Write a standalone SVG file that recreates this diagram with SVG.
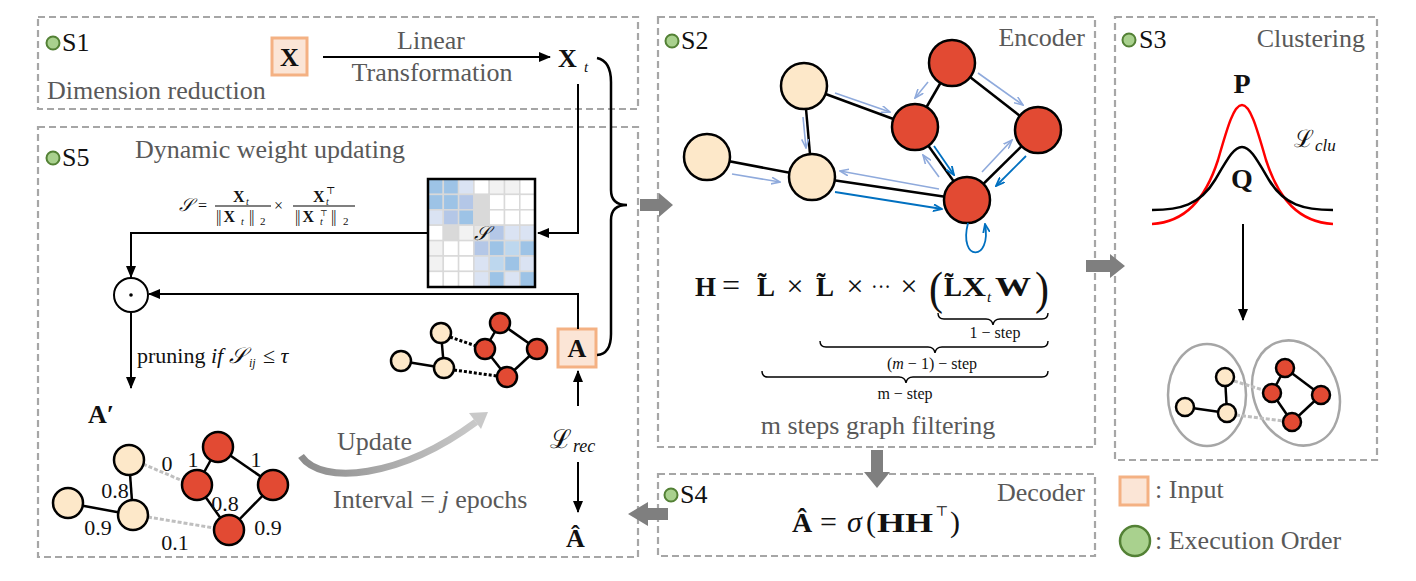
<svg xmlns="http://www.w3.org/2000/svg" width="1416" height="581" viewBox="0 0 1416 581">
<style>
.box{fill:none;stroke:#a6a6a6;stroke-width:2.2;stroke-dasharray:7 4}
.lbl{font-family:"Liberation Serif",serif;fill:#595959;font-size:26px}
.tx{font-family:"Liberation Serif","DejaVu Serif",serif;fill:#111}
.sl{font-family:"Liberation Serif",serif;fill:#111;font-size:26px}
.b{font-weight:bold}
.i{font-style:italic}
.dot{fill:#a9d18e;stroke:#538135;stroke-width:2}
.inp{fill:#fbe5d6;stroke:#f4b183;stroke-width:3}
.ln{stroke:#000;stroke-width:2;fill:none}
.edge{stroke:#000;stroke-width:2.5;fill:none}
.pl{fill:#fde8c9;stroke:#000;stroke-width:2.5}
.rd{fill:#e24a33;stroke:#000;stroke-width:2.5}
.gd{stroke:#bfbfbf;stroke-width:3;stroke-dasharray:4 2;fill:none}
.kd{stroke:#000;stroke-width:3;stroke-dasharray:3 2;fill:none}
.ba{fill:#7f7f7f}
.lb{stroke:#8faadc;stroke-width:1.6;fill:none}
.db{stroke:#0070c0;stroke-width:1.8;fill:none}
.cell{stroke:#d9d9d9;stroke-width:1.5}
</style>
<defs>
<marker id="ah" markerUnits="userSpaceOnUse" markerWidth="12" markerHeight="10" refX="11" refY="5" orient="auto"><path d="M0,0 L12,5 L0,10 z" fill="#000"/></marker>
<marker id="lbm" markerUnits="userSpaceOnUse" markerWidth="10" markerHeight="8" refX="9" refY="4" orient="auto"><path d="M0,0.5 L9,4 L0,7.5" fill="none" stroke="#8faadc" stroke-width="1.6"/></marker>
<marker id="dbm" markerUnits="userSpaceOnUse" markerWidth="10" markerHeight="8" refX="9" refY="4" orient="auto"><path d="M0,0.5 L9,4 L0,7.5" fill="none" stroke="#0070c0" stroke-width="1.8"/></marker>
<linearGradient id="ug" x1="0" y1="0" x2="1" y2="0"><stop offset="0" stop-color="#8c8c8c"/><stop offset="1" stop-color="#c9c9c9"/></linearGradient>
</defs>

<!-- boxes -->
<g id="S1">
<rect class="box" x="38" y="17" width="600" height="92"/>
<circle class="dot" cx="53" cy="43" r="6.5"/>
<text class="sl" x="62" y="51">S1</text>
<text class="lbl" x="47" y="99">Dimension reduction</text>
</g>
<g id="S5">
<rect class="box" x="38" y="127" width="600" height="430"/>
<circle class="dot" cx="53" cy="158" r="6.5"/>
<text class="sl" x="62" y="166">S5</text>
<text class="lbl" x="135" y="158">Dynamic weight updating</text>
</g>
<g id="S2">
<rect class="box" x="658" y="17" width="437" height="430"/>
<circle class="dot" cx="672" cy="41" r="6.5"/>
<text class="sl" x="681" y="49">S2</text>
<text class="lbl" x="1085" y="46" text-anchor="end">Encoder</text>
</g>
<g id="S3">
<rect class="box" x="1115" y="17" width="262" height="443"/>
<circle class="dot" cx="1129" cy="40" r="6.5"/>
<text class="sl" x="1139" y="48">S3</text>
<text class="lbl" x="1365" y="47" text-anchor="end">Clustering</text>
</g>
<g id="S4">
<rect class="box" x="658" y="474" width="437" height="82"/>
<circle class="dot" cx="671" cy="495" r="6.5"/>
<text class="sl" x="680" y="503">S4</text>
<text class="lbl" x="1085" y="501" text-anchor="end">Decoder</text>
<text class="tx b" x="792" y="532" font-size="28">Â</text>
<text class="tx" x="820" y="532" font-size="30">=</text>
<text class="tx i" x="847" y="532" font-size="30">σ</text>
<text class="tx" x="866" y="532" font-size="30">(</text>
<text class="tx b" x="877" y="532" font-size="28" textLength="56" lengthAdjust="spacingAndGlyphs">HH</text>
<text class="tx" x="935" y="516" font-size="14">⊤</text>
<text class="tx" x="950" y="532" font-size="30">)</text>
</g>

<!-- S1 contents -->
<g id="X-input">
<rect class="inp" x="272" y="38" width="35" height="37"/>
<text class="tx b" x="289.5" y="66" font-size="26" text-anchor="middle">X</text>
</g>
<g id="Xt">
<text class="tx b" x="558" y="67" font-size="26">X</text>
<text class="tx i" x="584" y="72" font-size="15">t</text>
</g>
<text class="lbl" x="431" y="49" text-anchor="middle">Linear</text>
<text class="lbl" x="432" y="81" text-anchor="middle">Transformation</text>

<!-- S5 formula -->
<g id="sim-formula" class="tx" font-size="16">
<text x="179" y="211" class="i" font-size="18">𝒮</text>
<text x="198" y="211">=</text>
<line x1="215" y1="206" x2="271" y2="206" stroke="#000" stroke-width="1.2"/>
<text x="233" y="202" class="b">X</text><text x="246" y="205" class="i" font-size="10">t</text>
<text x="216" y="222" letter-spacing="-1">|| <tspan class="b" letter-spacing="0">X</tspan></text><text x="241" y="225" class="i" font-size="10">t</text><text x="249" y="222" letter-spacing="-1">||</text><text x="260" y="225" font-size="11">2</text>
<text x="274" y="211">×</text>
<line x1="293" y1="206" x2="355" y2="206" stroke="#000" stroke-width="1.2"/>
<text x="313" y="202" class="b">X</text><text x="326" y="205" class="i" font-size="10">t</text><text x="326" y="194" font-size="10">⊤</text>
<text x="295" y="222" letter-spacing="-1">|| <tspan class="b" letter-spacing="0">X</tspan></text><text x="320" y="225" class="i" font-size="10">t</text><text x="320" y="216" font-size="8">⊤</text><text x="331" y="222" letter-spacing="-1">||</text><text x="343" y="225" font-size="11">2</text>
</g>

<!-- similarity matrix -->
<g id="matrix">
<g class="cell">
<rect x="428" y="179" width="15.3" height="15.4" fill="#9dc3e6"/><rect x="443.3" y="179" width="15.3" height="15.4" fill="#9dc3e6"/><rect x="458.6" y="179" width="15.3" height="15.4" fill="#dae3f3"/><rect x="473.9" y="179" width="15.3" height="15.4" fill="#fff"/><rect x="489.2" y="179" width="15.3" height="15.4" fill="#f2f2f2"/><rect x="504.5" y="179" width="15.3" height="15.4" fill="#f2f2f2"/><rect x="519.8" y="179" width="15.2" height="15.4" fill="#fff"/>
<rect x="428" y="194.4" width="15.3" height="15.4" fill="#9dc3e6"/><rect x="443.3" y="194.4" width="15.3" height="15.4" fill="#9dc3e6"/><rect x="458.6" y="194.4" width="15.3" height="15.4" fill="#b4c7e7"/><rect x="473.9" y="194.4" width="15.3" height="15.4" fill="#d9d9d9"/><rect x="489.2" y="194.4" width="15.3" height="15.4" fill="#fff"/><rect x="504.5" y="194.4" width="15.3" height="15.4" fill="#fff"/><rect x="519.8" y="194.4" width="15.2" height="15.4" fill="#fff"/>
<rect x="428" y="209.8" width="15.3" height="15.4" fill="#dae3f3"/><rect x="443.3" y="209.8" width="15.3" height="15.4" fill="#b4c7e7"/><rect x="458.6" y="209.8" width="15.3" height="15.4" fill="#9dc3e6"/><rect x="473.9" y="209.8" width="15.3" height="15.4" fill="#d9d9d9"/><rect x="489.2" y="209.8" width="15.3" height="15.4" fill="#fff"/><rect x="504.5" y="209.8" width="15.3" height="15.4" fill="#fff"/><rect x="519.8" y="209.8" width="15.2" height="15.4" fill="#fff"/>
<rect x="428" y="225.2" width="15.3" height="15.4" fill="#fff"/><rect x="443.3" y="225.2" width="15.3" height="15.4" fill="#d9d9d9"/><rect x="458.6" y="225.2" width="15.3" height="15.4" fill="#f2f2f2"/><rect x="473.9" y="225.2" width="15.3" height="15.4" fill="#e7e6e6"/><rect x="489.2" y="225.2" width="15.3" height="15.4" fill="#b4c7e7"/><rect x="504.5" y="225.2" width="15.3" height="15.4" fill="#dae3f3"/><rect x="519.8" y="225.2" width="15.2" height="15.4" fill="#dae3f3"/>
<rect x="428" y="240.6" width="15.3" height="15.4" fill="#f2f2f2"/><rect x="443.3" y="240.6" width="15.3" height="15.4" fill="#fff"/><rect x="458.6" y="240.6" width="15.3" height="15.4" fill="#fff"/><rect x="473.9" y="240.6" width="15.3" height="15.4" fill="#b4c7e7"/><rect x="489.2" y="240.6" width="15.3" height="15.4" fill="#9dc3e6"/><rect x="504.5" y="240.6" width="15.3" height="15.4" fill="#bdd7ee"/><rect x="519.8" y="240.6" width="15.2" height="15.4" fill="#9dc3e6"/>
<rect x="428" y="256" width="15.3" height="15.4" fill="#f2f2f2"/><rect x="443.3" y="256" width="15.3" height="15.4" fill="#fff"/><rect x="458.6" y="256" width="15.3" height="15.4" fill="#fff"/><rect x="473.9" y="256" width="15.3" height="15.4" fill="#dae3f3"/><rect x="489.2" y="256" width="15.3" height="15.4" fill="#bdd7ee"/><rect x="504.5" y="256" width="15.3" height="15.4" fill="#9dc3e6"/><rect x="519.8" y="256" width="15.2" height="15.4" fill="#dae3f3"/>
<rect x="428" y="271.4" width="15.3" height="15.6" fill="#fff"/><rect x="443.3" y="271.4" width="15.3" height="15.6" fill="#fff"/><rect x="458.6" y="271.4" width="15.3" height="15.6" fill="#fff"/><rect x="473.9" y="271.4" width="15.3" height="15.6" fill="#dae3f3"/><rect x="489.2" y="271.4" width="15.3" height="15.6" fill="#9dc3e6"/><rect x="504.5" y="271.4" width="15.3" height="15.6" fill="#dae3f3"/><rect x="519.8" y="271.4" width="15.2" height="15.6" fill="#9dc3e6"/>
</g>
<rect x="428" y="179" width="107" height="108" fill="none" stroke="#000" stroke-width="2.5"/>
<text class="tx i" x="481.5" y="240" font-size="20" text-anchor="middle">𝒮</text>
</g>

<!-- hadamard -->
<g id="hadamard">
<circle cx="131" cy="295" r="17" fill="#fff" stroke="#000" stroke-width="2"/>
<circle cx="131" cy="295" r="1.8" fill="#000"/>
</g>
<text class="tx" x="137" y="363" font-size="22">pruning <tspan class="i">if</tspan> <tspan class="i">𝒮</tspan></text>
<text class="tx i" x="249" y="367" font-size="12">ij</text>
<text class="tx" x="263" y="363" font-size="22">≤ <tspan class="i">τ</tspan></text>
<g id="Aprime"><text class="tx b" x="88" y="423" font-size="26">A′</text></g>

<!-- bottom-left graph -->
<g id="graph-aprime">
<line class="edge" x1="129" y1="460" x2="133" y2="515"/>
<line class="edge" x1="68" y1="503" x2="133" y2="515"/>
<line class="edge" x1="218" y1="447" x2="197" y2="485"/>
<line class="edge" x1="218" y1="447" x2="273" y2="485"/>
<line class="edge" x1="197" y1="485" x2="229" y2="530"/>
<line class="edge" x1="273" y1="485" x2="229" y2="530"/>
<line class="gd" x1="143" y1="464" x2="183" y2="481"/>
<line class="gd" x1="148" y1="517" x2="214" y2="528"/>
<circle class="pl" cx="129" cy="460" r="15"/><circle class="pl" cx="68" cy="503" r="15"/><circle class="pl" cx="133" cy="515" r="15"/>
<circle class="rd" cx="218" cy="447" r="15"/><circle class="rd" cx="197" cy="485" r="15"/><circle class="rd" cx="273" cy="485" r="15"/><circle class="rd" cx="229" cy="530" r="15"/>
<g class="tx" font-size="22" fill="#333" text-anchor="middle">
<text x="167" y="471">0</text><text x="193" y="467">1</text><text x="256" y="467">1</text>
<text x="115" y="498">0.8</text><text x="98" y="535">0.9</text><text x="225" y="511">0.8</text><text x="268" y="535">0.9</text><text x="175" y="550">0.1</text>
</g>
</g>

<!-- middle small graph -->
<g id="graph-a">
<line class="edge" x1="441" y1="333" x2="444" y2="368"/>
<line class="edge" x1="401" y1="361" x2="444" y2="368"/>
<line class="edge" x1="500" y1="323" x2="485" y2="349"/>
<line class="edge" x1="500" y1="323" x2="537" y2="349"/>
<line class="edge" x1="485" y1="349" x2="507" y2="377"/>
<line class="edge" x1="537" y1="349" x2="507" y2="377"/>
<line class="kd" x1="450" y1="337" x2="476" y2="346"/>
<line class="kd" x1="454" y1="370" x2="497" y2="376"/>
<circle class="pl" cx="441" cy="333" r="10"/><circle class="pl" cx="401" cy="361" r="10"/><circle class="pl" cx="444" cy="368" r="10"/>
<circle class="rd" cx="500" cy="323" r="10"/><circle class="rd" cx="485" cy="349" r="10"/><circle class="rd" cx="537" cy="349" r="10"/><circle class="rd" cx="507" cy="377" r="10"/>
</g>
<g id="A-input">
<rect class="inp" x="558" y="329" width="38" height="38"/>
<text class="tx b" x="577" y="357" font-size="26" text-anchor="middle">A</text>
</g>
<g id="Lrec"><text class="tx" x="550" y="448" font-size="26">ℒ</text><text class="tx i" x="573" y="452" font-size="18">rec</text></g>
<g id="Ahat"><text class="tx b" x="566" y="547" font-size="26">Â</text></g>
<g id="update">
<path d="M301,456 C322,486 400,478 476,422" fill="none" stroke="url(#ug)" stroke-width="7"/>
<polygon points="488,412 481,429 469,413" fill="#c9c9c9"/>
<text class="lbl" x="337" y="450">Update</text>
<text class="lbl" x="333" y="508">Interval = <tspan class="i">j</tspan> epochs</text>
</g>

<!-- S2 graph -->
<g id="graph-enc">
<line class="edge" x1="804" y1="86" x2="812" y2="177"/>
<line class="edge" x1="707" y1="157" x2="812" y2="177"/>
<line class="edge" x1="804" y1="86" x2="915" y2="127"/>
<line class="edge" x1="952" y1="63" x2="915" y2="127"/>
<line class="edge" x1="952" y1="63" x2="1038" y2="130"/>
<line class="edge" x1="1038" y1="130" x2="967" y2="200"/>
<line class="edge" x1="915" y1="127" x2="967" y2="200"/>
<line class="edge" x1="812" y1="177" x2="967" y2="200"/>
<circle class="pl" cx="804" cy="86" r="23"/><circle class="pl" cx="707" cy="157" r="23"/><circle class="pl" cx="812" cy="177" r="23"/>
<circle class="rd" cx="952" cy="63" r="23"/><circle class="rd" cx="915" cy="127" r="23"/><circle class="rd" cx="1038" cy="130" r="23"/><circle class="rd" cx="967" cy="200" r="23"/>
</g>
<g id="msg-arrows">
<line class="lb" x1="835" y1="93" x2="890" y2="112" marker-end="url(#lbm)"/>
<line class="lb" x1="803" y1="117" x2="806" y2="148" marker-end="url(#lbm)"/>
<line class="lb" x1="732" y1="174" x2="780" y2="182" marker-end="url(#lbm)"/>
<line class="lb" x1="928" y1="82" x2="915" y2="98" marker-end="url(#lbm)"/>
<line class="lb" x1="978" y1="73" x2="1023" y2="105" marker-end="url(#lbm)"/>
<line class="lb" x1="939" y1="177" x2="923" y2="155" marker-end="url(#lbm)"/>
<line class="db" x1="934" y1="146" x2="954" y2="175" marker-end="url(#dbm)"/>
<line class="lb" x1="982" y1="172" x2="1012" y2="140" marker-end="url(#lbm)"/>
<line class="db" x1="1026" y1="156" x2="996" y2="186" marker-end="url(#dbm)"/>
<line class="lb" x1="939" y1="189" x2="840" y2="171" marker-end="url(#lbm)"/>
<line class="db" x1="835" y1="192" x2="942" y2="209" marker-end="url(#dbm)"/>
<path class="db" d="M968,223 C958,262 992,262 985,224" marker-end="url(#dbm)"/>
</g>

<!-- H formula -->
<g id="H-formula" class="tx">
<text class="b" x="695" y="296" font-size="27">H</text>
<text x="731" y="296" font-size="32" text-anchor="middle">=</text>
<text class="b" x="757" y="296" font-size="27">L̃</text>
<text x="795" y="296" font-size="30" text-anchor="middle">×</text>
<text class="b" x="816" y="296" font-size="27">L̃</text>
<text x="855" y="296" font-size="30" text-anchor="middle">×</text>
<text x="881" y="294" font-size="24" text-anchor="middle" textLength="20" lengthAdjust="spacingAndGlyphs">···</text>
<text x="909" y="296" font-size="30" text-anchor="middle">×</text>
<text x="929" y="304" font-size="46" textLength="14" lengthAdjust="spacingAndGlyphs">(</text>
<text class="b" x="944" y="296" font-size="27">L̃</text>
<text class="b" x="962" y="296" font-size="27" textLength="24" lengthAdjust="spacingAndGlyphs">X</text>
<text class="i" x="987" y="302" font-size="15">t</text>
<text class="b" x="995" y="296" font-size="27" textLength="36" lengthAdjust="spacingAndGlyphs">W</text>
<text x="1035" y="304" font-size="46" textLength="14" lengthAdjust="spacingAndGlyphs">)</text>
</g>
<g id="braces" fill="none" stroke="#000" stroke-width="1.4">
<path d="M938,313 Q938,319 944,319 L986,319 Q992,319 993,325 Q994,319 1000,319 L1042,319 Q1048,319 1048,313"/>
<path d="M820,341 Q820,347 826,347 L928,347 Q934,347 935,353 Q936,347 942,347 L1042,347 Q1048,347 1048,341"/>
<path d="M762,371 Q762,377 768,377 L899,377 Q905,377 906,383 Q907,377 913,377 L1042,377 Q1048,377 1048,371"/>
</g>
<g class="tx" font-size="16" text-anchor="middle">
<text x="995" y="338">1 − step</text>
<text x="932" y="369">(<tspan class="i">m</tspan> − 1) − step</text>
<text x="905" y="399">m − step</text>
</g>
<text class="lbl" x="878" y="434" text-anchor="middle">m steps graph filtering</text>

<!-- S3 content -->
<g id="dists">
<text class="tx b" x="1242" y="93" font-size="28" text-anchor="middle">P</text>
<path d="M1152,224 C1185,222 1205,200 1218,160 C1228,125 1234,105 1242,105 C1250,105 1256,125 1266,160 C1279,200 1299,222 1333,224" fill="none" stroke="#ff0000" stroke-width="2.5"/>
<path d="M1152,210 C1180,210 1200,205 1215,180 C1228,158 1234,147 1242,147 C1250,147 1256,158 1269,180 C1284,205 1304,210 1333,210" fill="none" stroke="#000" stroke-width="2.5"/>
<text class="tx b" x="1242" y="188" font-size="28" text-anchor="middle">Q</text>
<text class="tx" x="1294" y="147" font-size="24">ℒ</text><text class="tx i" x="1315" y="151" font-size="17">clu</text>
</g>
<g id="clusters">
<ellipse cx="1207" cy="395" rx="39" ry="51" fill="none" stroke="#a6a6a6" stroke-width="2.5"/>
<ellipse cx="1296" cy="393" rx="42" ry="54" transform="rotate(-22 1296 393)" fill="none" stroke="#a6a6a6" stroke-width="2.5"/>
<line class="edge" x1="1225" y1="377" x2="1227" y2="413"/>
<line class="edge" x1="1185" y1="407" x2="1227" y2="413"/>
<line class="edge" x1="1285" y1="368" x2="1272" y2="393"/>
<line class="edge" x1="1285" y1="368" x2="1321" y2="395"/>
<line class="edge" x1="1272" y1="393" x2="1292" y2="422"/>
<line class="edge" x1="1321" y1="395" x2="1292" y2="422"/>
<line class="gd" x1="1234" y1="381" x2="1263" y2="390"/>
<line class="gd" x1="1236" y1="415" x2="1283" y2="421"/>
<circle class="pl" cx="1225" cy="377" r="9"/><circle class="pl" cx="1185" cy="407" r="9"/><circle class="pl" cx="1227" cy="413" r="9"/>
<circle class="rd" cx="1285" cy="368" r="9"/><circle class="rd" cx="1272" cy="393" r="9"/><circle class="rd" cx="1321" cy="395" r="9"/><circle class="rd" cx="1292" cy="422" r="9"/>
</g>

<!-- legend -->
<g id="legend">
<rect class="inp" x="1120" y="477" width="28" height="28"/>
<text class="lbl" x="1155" y="498">: Input</text>
<circle cx="1135" cy="541" r="15" fill="#a9d18e" stroke="#538135" stroke-width="2.5"/>
<text class="lbl" x="1155" y="549">: Execution Order</text>
</g>

<!-- connectors -->
<g id="connectors">
<line class="ln" x1="323" y1="57" x2="550" y2="57" marker-end="url(#ah)"/>
<polyline class="ln" points="578,84 578,233 538,233" marker-end="url(#ah)"/>
<polyline class="ln" points="428,233 131,233 131,277" marker-end="url(#ah)"/>
<polyline class="ln" points="578,329 578,294 149,294" marker-end="url(#ah)"/>
<line class="ln" x1="131" y1="313" x2="131" y2="388" marker-end="url(#ah)"/>
<line class="ln" x1="578" y1="406" x2="578" y2="371" marker-end="url(#ah)"/>
<line class="ln" x1="578" y1="462" x2="578" y2="512" marker-end="url(#ah)"/>
<line class="ln" x1="1243" y1="224" x2="1243" y2="320" marker-end="url(#ah)"/>
<path d="M597,58 Q611,61 611,82 L611,190 Q611,205 627,205 Q611,205 611,220 L611,334 Q611,354 597,355" fill="none" stroke="#000" stroke-width="2.5"/>
<polygon class="ba" points="640,199 659,199 659,193 673,205 659,217 659,211 640,211"/>
<polygon class="ba" points="1086,260 1110,260 1110,254 1125,266 1110,278 1110,272 1086,272"/>
<polygon class="ba" points="871,450 883,450 883,472 890,472 877,488 864,472 871,472"/>
<polygon class="ba" points="668,508 648,508 648,502 628,514 648,526 648,520 668,520"/>
</g>
</svg>
